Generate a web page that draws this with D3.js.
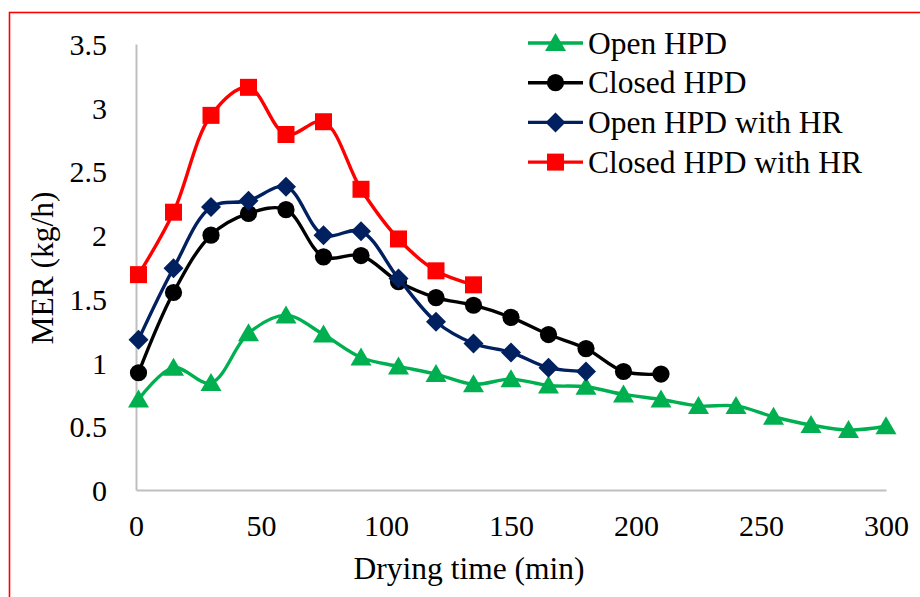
<!DOCTYPE html>
<html>
<head>
<meta charset="utf-8">
<script src="https://cdn.jsdelivr.net/npm/d3@7"></script>
<style>
  html, body { margin: 0; padding: 0; background: #fff; }
  #chart text { font-family: "Liberation Serif", "Times New Roman", serif; fill: #000; }
</style>
</head>
<body>
<svg id="chart" width="920" height="597"></svg>
<script>
// ---- data ----
const timesOpen = [1, 15, 30, 45, 60, 75, 90, 105, 120, 135, 150, 165, 180, 195, 210, 225, 240, 255, 270, 285, 300];
const openHPD = [0.71, 0.96, 0.84, 1.23, 1.37, 1.22, 1.04, 0.97, 0.91, 0.83, 0.87, 0.82, 0.81, 0.75, 0.71, 0.66, 0.66, 0.575, 0.51, 0.47, 0.50];

const timesClosed = [1, 15, 30, 45, 60, 75, 90, 105, 120, 135, 150, 165, 180, 195, 210];
const closedHPD = [0.92, 1.55, 2.00, 2.17, 2.20, 1.83, 1.84, 1.635, 1.51, 1.45, 1.355, 1.22, 1.11, 0.93, 0.91];

const timesOpenHR = [1, 15, 30, 45, 60, 75, 90, 105, 120, 135, 150, 165, 180];
const openHPDwithHR = [1.18, 1.74, 2.22, 2.27, 2.38, 2.0, 2.03, 1.66, 1.32, 1.15, 1.08, 0.96, 0.93];

const timesClosedHR = [1, 15, 30, 45, 60, 75, 90, 105, 120, 135];
const closedHPDwithHR = [1.69, 2.18, 2.94, 3.16, 2.79, 2.89, 2.36, 1.97, 1.72, 1.61];

const seriesNames = ["Open HPD", "Closed HPD", "Open HPD with HR", "Closed HPD with HR"];
const xTicks = [0, 50, 100, 150, 200, 250, 300];
const yTicks = [0, 0.5, 1, 1.5, 2, 2.5, 3, 3.5];
const xTitle = "Drying time (min)";
const yTitle = "MER (kg/h)";

// ---- layout ----
const FONT = "Liberation Serif";
const svg = d3.select("#chart");
const W = 920, H = 597;
const plot = { left: 136, right: 886, top: 44, bottom: 490 };
const x = d3.scaleLinear().domain([0, 300]).range([plot.left, plot.right]);
const y = d3.scaleLinear().domain([0, 3.5]).range([plot.bottom, plot.top]);

// outer red border
svg.append("rect").attr("x", 9.5).attr("y", 12.5).attr("width", W + 20).attr("height", H + 20)
  .attr("fill", "#fff").attr("stroke", "#ff0000").attr("stroke-width", 1.6);

// axes
const axisColor = "#bfbfbf";
const yAxis = svg.append("g").attr("transform", `translate(${plot.left},0)`)
  .call(d3.axisLeft(y).tickValues(yTicks).tickSize(0).tickPadding(29).tickFormat(d3.format("")));
const xAxis = svg.append("g").attr("transform", `translate(0,${plot.bottom})`)
  .call(d3.axisBottom(x).tickValues(xTicks).tickSize(0).tickPadding(25).tickFormat(d3.format("")));
[xAxis, yAxis].forEach(g => {
  g.attr("font-family", FONT).attr("font-size", 30);
  g.select(".domain").attr("stroke", axisColor).attr("stroke-width", 2);
  g.selectAll("text").attr("font-family", FONT).attr("font-size", 30).attr("fill", "#000");
});
yAxis.selectAll("text").attr("dy", "0.35em");

// titles
svg.append("text").attr("x", 469).attr("y", 579).attr("text-anchor", "middle")
  .attr("font-family", FONT).attr("font-size", 31.5).text(xTitle);
svg.append("text").attr("transform", `translate(53,268) rotate(-90)`).attr("text-anchor", "middle")
  .attr("font-family", FONT).attr("font-size", 31.5).text(yTitle);

// series
const series = [
  { name: seriesNames[0], t: timesOpen, v: openHPD, color: "#00b050", marker: "triangle" },
  { name: seriesNames[1], t: timesClosed, v: closedHPD, color: "#000000", marker: "circle" },
  { name: seriesNames[2], t: timesOpenHR, v: openHPDwithHR, color: "#002060", marker: "diamond" },
  { name: seriesNames[3], t: timesClosedHR, v: closedHPDwithHR, color: "#ff0000", marker: "square" }
];

const line = d3.line().x(d => x(d[0])).y(d => y(d[1])).curve(d3.curveCatmullRom.alpha(0.5));

function markerPath(type) {
  switch (type) {
    case "triangle": return "M0,-10 L10.5,8 L-10.5,8 Z";
    case "circle": return d3.symbol().type(d3.symbolCircle).size(Math.PI * 8.6 * 8.6)();
    case "diamond": return "M0,-10 L10,0 L0,10 L-10,0 Z";
    case "square": return "M-8.5,-8.5 L8.5,-8.5 L8.5,8.5 L-8.5,8.5 Z";
  }
}

series.forEach(s => {
  const pts = s.t.map((t, i) => [t, s.v[i]]);
  const g = svg.append("g");
  g.append("path").datum(pts).attr("d", line).attr("fill", "none")
    .attr("stroke", s.color).attr("stroke-width", 3.4).attr("stroke-linejoin", "round");
  g.selectAll("path.mk").data(pts).enter().append("path").attr("class", "mk")
    .attr("d", markerPath(s.marker))
    .attr("transform", d => `translate(${x(d[0])},${y(d[1])})`)
    .attr("fill", s.color);
});

// legend
const legend = svg.append("g");
series.forEach((s, i) => {
  const cy = 43 + i * 39.7;
  const g = legend.append("g").attr("transform", `translate(0,${cy})`);
  g.append("line").attr("x1", 528).attr("x2", 583).attr("y1", 0).attr("y2", 0)
    .attr("stroke", s.color).attr("stroke-width", 3.4);
  g.append("path").attr("d", markerPath(s.marker)).attr("transform", "translate(555.5,0)").attr("fill", s.color);
  g.append("text").attr("x", 588).attr("y", 0).attr("dy", "0.34em")
    .attr("font-family", FONT).attr("font-size", 31.5).text(s.name);
});
</script>
</body>
</html>
